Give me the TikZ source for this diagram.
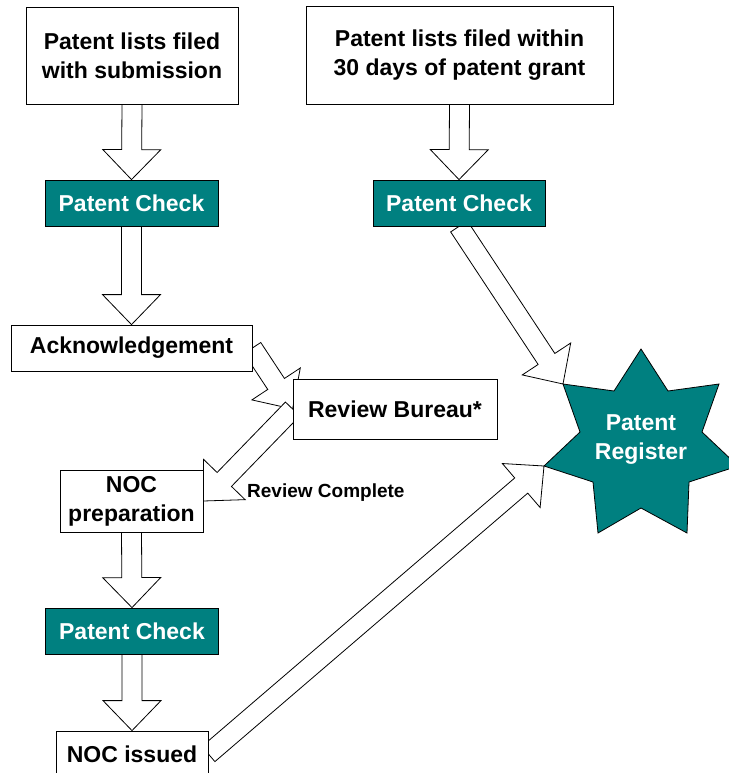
\documentclass[tikz,border=0pt]{standalone}
\usepackage{fontspec}
\setmainfont{Liberation Sans}
\usetikzlibrary{calc}
\definecolor{tealfill}{RGB}{0,128,128}
\pgfdeclarelayer{bg}
\pgfsetlayers{bg,main}
\newcommand{\blockarr}[2]{%
  \coordinate (bab) at ($(#2)!30pt!(#1)$);
  \path[barrow] ($(#1)!10pt!90:(#2)$) -- ($(bab)!10pt!90:(#2)$) -- ($(bab)!29pt!90:(#2)$) -- (#2)
    -- ($(bab)!29pt!-90:(#2)$) -- ($(bab)!10pt!-90:(#2)$) -- ($(#1)!10pt!-90:(#2)$) -- cycle;
}
\tikzset{
  box/.style={draw=black, line width=0.8pt, fill=white, inner sep=0pt, align=center,
    font=\fontsize{23}{29}\selectfont\bfseries},
  check/.style={box, fill=tealfill, text=white},
  barrow/.style={draw=black, line width=0.8pt, fill=white, line join=miter},
  starstyle/.style={draw=black, line width=0.8pt, fill=tealfill, line join=miter}
}
\begin{document}
\begin{tikzpicture}[x=1pt, y=-1pt]
\useasboundingbox (0,0) rectangle (728,773);
\node[box, minimum width=212pt, minimum height=97pt] (src1) at (132,55.5) {Patent lists filed\\with submission};
\node[box, minimum width=307pt, minimum height=98pt] (src2) at (459.5,55) {Patent lists filed within\\30 days of patent grant};
\node[check, minimum width=173pt, minimum height=46pt] (pc1) at (131.5,203) {Patent Check};
\node[check, minimum width=172pt, minimum height=46pt] (pc2) at (459,203) {Patent Check};
\node[box, minimum width=241pt, minimum height=46pt] (ack) at (131.5,348) {Acknowledgement};
\node[box, minimum width=204pt, minimum height=60pt] (rb) at (395,409) {Review Bureau*};
\node[box, minimum width=143pt, minimum height=62pt] (nocp) at (131.5,501) {NOC\\preparation};
\node[check, minimum width=173pt, minimum height=46pt] (pc3) at (132,631) {Patent Check};
\node[box, minimum width=152pt, minimum height=46pt] (noci) at (132,754) {NOC issued};
\node[font=\fontsize{19}{23}\selectfont\bfseries, anchor=west, inner sep=0pt] (rc) at (247,493) {Review Complete};
% star
\coordinate (stT) at (641,349);
\coordinate (stUR) at (719,384);
\coordinate (stR) at (738,466);
\coordinate (stLR) at (687,533);
\coordinate (stLL) at (598,533);
\coordinate (stL) at (544,466);
\coordinate (stUL) at (563,384);
\draw[starstyle] (stT) -- (668,391) -- (stUR) -- (702,432) -- (stR) -- (689,482) -- (stLR)
  -- (641,508) -- (stLL) -- (593,482) -- (stL) -- (580,432) -- (stUL) -- (614,391) -- cycle;
\node[align=center, text=white, font=\fontsize{23}{29}\selectfont\bfseries] (reg) at (641,440) {Patent\\Register};
\begin{pgfonlayer}{bg}
\blockarr{src1.south}{pc1.north}
\blockarr{src2.south}{pc2.north}
\blockarr{pc1.south}{ack.north}
\blockarr{ack.east}{rb.west}
\blockarr{rb.west}{nocp.east}
\blockarr{pc2.south}{stUL}
\blockarr{nocp.south}{pc3.north}
\blockarr{pc3.south}{noci.north}
\blockarr{noci.east}{stL}
\end{pgfonlayer}
\end{tikzpicture}
\end{document}
